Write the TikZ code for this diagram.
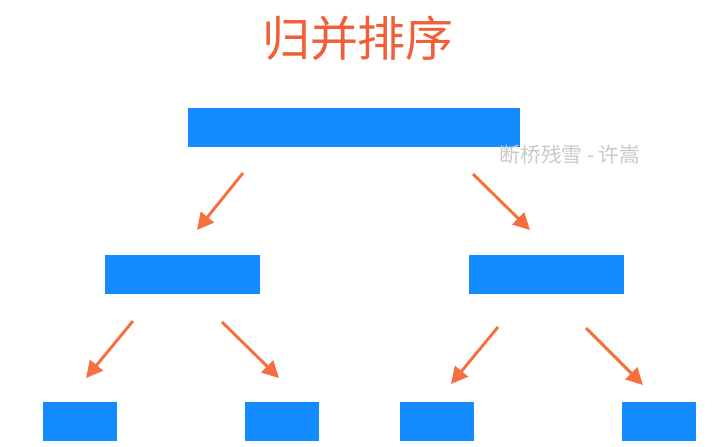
\documentclass[tikz,border=0pt]{standalone}
\usepackage{fontspec}
\newfontfamily\cjk{Noto Sans CJK SC}
\usetikzlibrary{arrows.meta}
\definecolor{boxblue}{RGB}{20,140,255}
\definecolor{arroworange}{RGB}{245,112,62}
\definecolor{titleorange}{RGB}{240,95,55}
\definecolor{markgray}{RGB}{200,200,200}
\tikzset{
  block/.style={fill=boxblue, inner sep=0pt, minimum height=29.25pt},
  split/.style={arroworange, line width=2.2pt, -{Triangle[length=12.5pt,width=12.5pt]}}
}
\begin{document}
\begin{tikzpicture}[x=0.75pt,y=0.75pt,yscale=-1,xscale=1]
\useasboundingbox (0,0) rectangle (719,447);

%Shape: Rectangle
\node [block, minimum width=249pt] (whole) at (354,127) {};
%Shape: Rectangle
\node [block, minimum width=116.25pt] (left) at (182.5,274.5) {};
%Shape: Rectangle
\node [block, minimum width=116.25pt] (right) at (546,274.5) {};
%Shape: Rectangle
\node [block, minimum width=55.5pt] (ll) at (79.5,421.5) {};
\node [block, minimum width=55.5pt] (lr) at (281.5,421.5) {};
\node [block, minimum width=55.5pt] (rl) at (437,421.5) {};
\node [block, minimum width=55.5pt] (rr) at (659,421.5) {};

%Straight Lines
\coordinate (a1s) at (243,173);  \coordinate (a1e) at (197,230);
\coordinate (a2s) at (473,174);  \coordinate (a2e) at (530,230);
\coordinate (a3s) at (133,321);  \coordinate (a3e) at (86,378);
\coordinate (a4s) at (222,322);  \coordinate (a4e) at (279,378);
\coordinate (a5s) at (498,327);  \coordinate (a5e) at (451,384);
\coordinate (a6s) at (586,328);  \coordinate (a6e) at (643,385);
\draw [split] (a1s) -- (a1e);
\draw [split] (a2s) -- (a2e);
\draw [split] (a3s) -- (a3e);
\draw [split] (a4s) -- (a4e);
\draw [split] (a5s) -- (a5e);
\draw [split] (a6s) -- (a6e);

% Text Node
\node [text=titleorange, font=\cjk\fontsize{36}{40}\selectfont] (title) at (358,38) {归并排序};
% Text Node
\node [text=markgray, font=\cjk\fontsize{15.5}{17}\selectfont] (mark) at (570,155) {断桥残雪 - 许嵩};

\end{tikzpicture}
\end{document}
